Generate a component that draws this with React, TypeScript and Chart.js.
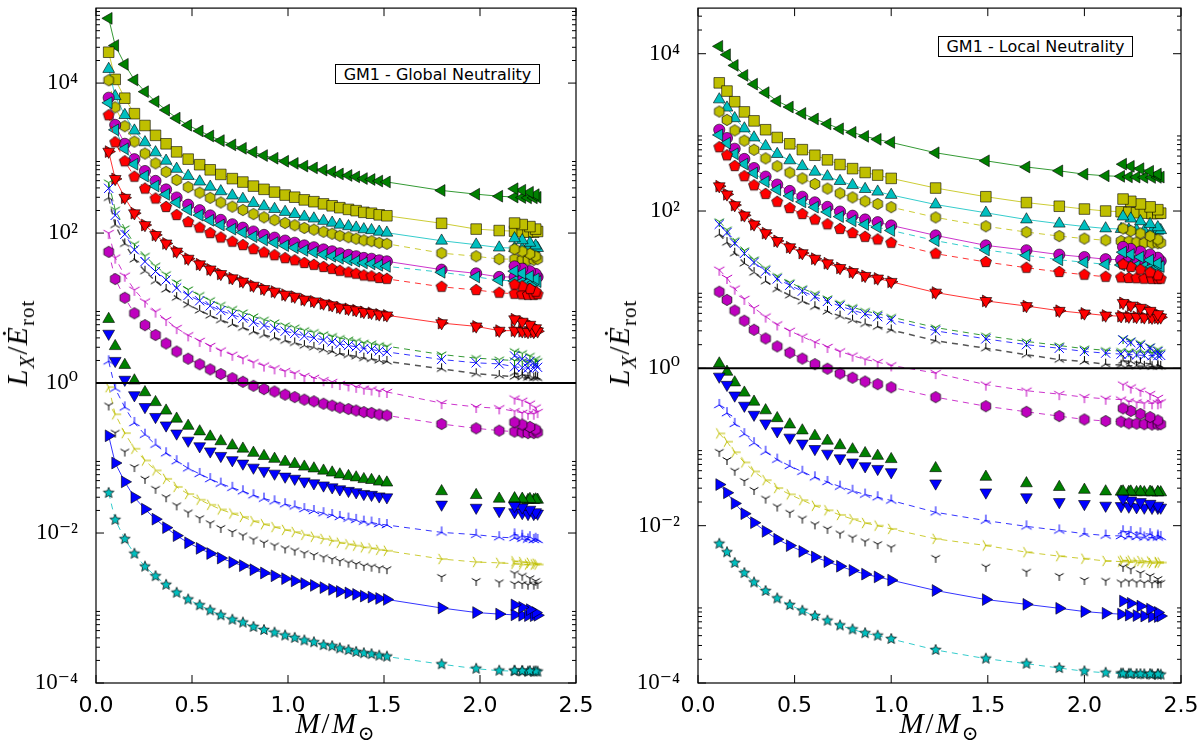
import React, { useEffect, useRef } from "react";
import { Chart, registerables } from "chart.js";
Chart.register(...registerables);

// ---------------- x positions (M / M_sun) ----------------
const XL = [0.066,0.10,0.15,0.20,0.255,0.31,0.365,0.42,0.48,0.54,0.595,0.65,0.71,0.765,0.82,0.875,0.93,0.985,1.035,1.085,1.135,1.185,1.23,1.27,1.315,1.355,1.395,1.435,1.475,1.515,1.8,1.98,2.1,2.18,2.22,2.25,2.28,2.3,2.29,2.26,2.22,2.18];
const XR = [0.11,0.15,0.19,0.24,0.29,0.35,0.41,0.475,0.54,0.605,0.67,0.735,0.80,0.865,0.93,1.0,1.23,1.49,1.70,1.87,2.0,2.11,2.19,2.23,2.27,2.31,2.35,2.38,2.395,2.38,2.34,2.29,2.24,2.2];

// ---------------- left panel: Global Neutrality ----------------
const L_GREEN_TRI_LEFT = [73000,31700,17800,11000,7680,5660,4370,3410,2740,2300,1970,1710,1500,1350,1200,1080,994,907,850,782,739,691,653,614,586,562,533,518,494,480,370,330,310,302,298,295,295,300,325,350,372,390];
const L_YELLOW_SQUARE = [25800,11200,6290,3910,2720,2010,1550,1210,969,816,697,605,532,479,423,383,352,321,301,277,262,245,231,218,207,199,189,184,175,170,135,113,108,106,104,103,103,105,113,122,130,136];
const L_CYAN_TRI_UP = [15400,6670,3740,2320,1620,1190,919,717,576,485,414,360,316,285,251,227,209,191,179,165,156,145,137,129,123,118,112,109,104,101,79,70,64,63,62,61,61,63,68,74,80,85];
const L_YELLOW_HEX = [10900,4750,2660,1660,1150,850,655,511,410,346,295,256,225,203,179,162,149,136,127,117,111,104,98,92,88,84,80,78,74,72,54,49,45,45,44,44,44,45,49,53,57,61];
const L_MAGENTA_CIRCLE = [6380,2770,1550,966,672,496,382,298,239,202,172,150,131,118,105,94.5,86.9,79.4,74.3,68.5,64.7,60.5,57.1,53.8,51.2,49.1,46.6,45.4,43.3,42,32.5,29,26,26,26,25.5,25.5,26,28.5,31,33.5,36];
const L_CYAN_TRI_LEFT = [5470,2380,1330,828,576,425,328,256,205,173,148,128,113,102,89.6,81,74.5,68,63.7,58.7,55.4,51.8,49,46.1,43.9,42.1,40,38.9,37.1,36,30,26,23.5,23,22.5,22,22,22.5,24.5,26.5,29,31];
const L_RED_PENTAGON = [3720,1620,907,564,392,289,223,174,140,118,100,87.2,76.7,69.1,61,55.1,50.7,46.3,43.4,39.9,37.7,35.3,33.3,31.4,29.9,28.7,27.2,26.5,25.2,24.5,19.2,17.4,16,15.5,15.2,15,15,15.3,16.5,18,19.5,20.5];
const L_RED_TRI = [1220,528,296,184,128,94.4,72.8,56.8,45.6,38.4,32.8,28.5,25,22.6,19.9,18,16.6,15.1,14.2,13,12.3,11.5,10.9,10.2,9.76,9.36,8.88,8.64,8.24,8.0,6.3,5.7,5.0,5.0,4.9,4.8,4.8,4.9,5.4,6.0,6.6,7.1];
const L_GREEN_Y = [471,205,115,71.3,49.6,36.6,28.2,22,17.7,14.9,12.7,11,9.7,8.74,7.72,6.98,6.42,5.86,5.49,5.05,4.77,4.46,4.22,3.97,3.78,3.63,3.44,3.35,3.19,3.1,2.4,2.15,2.05,2.0,1.95,1.9,1.9,1.95,2.1,2.3,2.5,2.65];
const L_BLUE_X = [395,172,96.2,59.8,41.6,30.7,23.7,18.5,14.8,12.5,10.7,9.26,8.14,7.33,6.47,5.85,5.38,4.91,4.6,4.24,4.0,3.74,3.54,3.33,3.17,3.04,2.89,2.81,2.68,2.6,2.06,1.86,1.8,1.65,1.6,1.58,1.58,1.62,1.78,1.95,2.1,2.3];
const L_BLACK_TRI_UP = [295,128,71.8,44.6,31,22.9,17.7,13.8,11.1,9.31,7.95,6.91,6.07,5.47,4.83,4.37,4.02,3.67,3.43,3.16,2.99,2.79,2.64,2.48,2.37,2.27,2.15,2.1,2.0,1.94,1.55,1.33,1.26,1.22,1.2,1.18,1.17,1.17,1.2,1.24,1.3,1.36];
const L_MAGENTA_Y = [100,47,27,17.5,12.2,8.97,6.92,5.4,4.33,3.65,3.12,2.71,2.38,2.14,1.89,1.71,1.57,1.44,1.35,1.24,1.17,1.09,1.03,0.97,0.93,0.89,0.84,0.82,0.78,0.76,0.54,0.48,0.46,0.42,0.40,0.39,0.39,0.41,0.47,0.53,0.58,0.62];
const L_MAGENTA_HEX = [56.2,24.4,13.7,8.51,5.92,4.37,3.37,2.63,2.11,1.78,1.52,1.32,1.16,1.04,0.92,0.83,0.77,0.70,0.65,0.60,0.57,0.53,0.50,0.47,0.45,0.43,0.41,0.40,0.38,0.37,0.284,0.249,0.232,0.225,0.22,0.215,0.215,0.22,0.24,0.26,0.28,0.30];
const L_GREEN_TRI_UP = [7.14,3.1,1.74,1.08,0.752,0.555,0.428,0.334,0.268,0.226,0.193,0.167,0.147,0.133,0.117,0.106,0.0973,0.0888,0.0832,0.0766,0.0724,0.0677,0.0639,0.0602,0.0573,0.055,0.0522,0.0508,0.0484,0.047,0.036,0.032,0.0286,0.028,0.0277,0.0275,0.0275,0.0277,0.028,0.0283,0.0286,0.029];
const L_BLUE_TRI_DOWN = [4.56,1.98,1.11,0.69,0.48,0.354,0.273,0.213,0.171,0.144,0.123,0.107,0.0939,0.0846,0.0747,0.0675,0.0621,0.0567,0.0531,0.0489,0.0462,0.0432,0.0408,0.0384,0.0366,0.0351,0.0333,0.0324,0.0309,0.030,0.024,0.0218,0.0197,0.019,0.0185,0.018,0.018,0.0182,0.019,0.0205,0.022,0.023];
const L_BLUE_TRI_UP_LINE = [1.95,0.845,0.474,0.294,0.205,0.151,0.116,0.0909,0.073,0.0614,0.0525,0.0456,0.0401,0.0361,0.0319,0.0288,0.0265,0.0242,0.0227,0.0209,0.0197,0.0184,0.0174,0.0164,0.0156,0.015,0.0142,0.0138,0.0132,0.0128,0.0102,0.0095,0.0088,0.0086,0.0084,0.0082,0.0081,0.0081,0.0084,0.0088,0.0092,0.0096];
const L_YELLOW_TRI_RIGHT = [0.882,0.383,0.215,0.133,0.0928,0.0684,0.0528,0.0412,0.0331,0.0278,0.0238,0.0206,0.0182,0.0164,0.0144,0.0131,0.012,0.011,0.0103,0.00945,0.00893,0.00835,0.00789,0.00742,0.00708,0.00679,0.00644,0.00626,0.00597,0.0058,0.0045,0.0041,0.0040,0.0039,0.0038,0.0038,0.0038,0.0038,0.0039,0.0040,0.0041,0.0042];
const L_BLACK_Y = [0.502,0.218,0.122,0.0759,0.0528,0.0389,0.03,0.0234,0.0188,0.0158,0.0135,0.0117,0.0103,0.0093,0.0082,0.00743,0.00683,0.00624,0.00584,0.00538,0.00508,0.00475,0.00449,0.00422,0.00403,0.00386,0.00366,0.00356,0.0034,0.0033,0.0026,0.0023,0.0022,0.0021,0.0021,0.00205,0.00205,0.0021,0.0023,0.0025,0.0027,0.0029];
const L_BLUE_TRI_RIGHT = [0.198,0.0858,0.0481,0.0299,0.0208,0.0153,0.0118,0.00923,0.00741,0.00624,0.00533,0.00463,0.00407,0.00367,0.00324,0.00293,0.00269,0.00246,0.0023,0.00212,0.002,0.00187,0.00177,0.00166,0.00159,0.00152,0.00144,0.0014,0.00134,0.0013,0.001,0.00087,0.00083,0.00081,0.0008,0.00079,0.00079,0.0008,0.00087,0.00095,0.00102,0.0011];
const L_CYAN_STAR = [0.0343,0.015,0.0083,0.0053,0.00357,0.00266,0.00204,0.0016,0.0013,0.00109,0.00093,0.0008,0.0007,0.00064,0.00056,0.00051,0.00047,0.00043,0.0004,0.00037,0.00035,0.00032,0.00031,0.00029,0.000275,0.00026,0.00025,0.000243,0.000232,0.000225,0.000178,0.000155,0.000146,0.000144,0.000143,0.000142,0.000142,0.000142,0.000143,0.000144,0.000145,0.000146];

// ---------------- right panel: Local Neutrality ----------------
const R_GREEN_TRI_LEFT = [12400,9700,7100,5300,4100,3200,2500,2100,1740,1480,1280,1110,1000,890,815,745,550,435,363,324,294,280,276,272,270,268,267,268,270,295,320,345,370,394];
const R_YELLOW_SQUARE = [4260,3350,2450,1820,1400,1080,861,715,603,512,447,390,346,309,286,260,196,152,128,115,106,100,98,96,95,94,93,93,94,104,113,123,133,142];
const R_CYAN_TRI_UP = [2620,2060,1510,1120,859,667,530,440,371,315,275,240,213,190,176,160,121,95,78,69,63.6,60,59,58,57,56,56,56,57,62,68,74,80,85];
const R_YELLOW_HEX = [1840,1440,1060,784,601,467,371,308,260,221,193,168,149,133,123,112,83,64,54,48,44.6,42.5,41.5,41,40,39.5,39,39,39.5,43.5,48,52,56,60];
const R_MAGENTA_CIRCLE = [1080,846,619,459,352,274,217,180,152,129,113,98.4,87.2,78.1,72.2,65.6,49,36.6,31.7,27.9,26,24.4,24,23.8,23.5,23.2,23,23,23.2,25.5,28,30.5,33,35];
const R_CYAN_TRI_LEFT = [928,730,534,396,304,236,187,156,131,112,97.4,84.9,75.3,67.4,62.3,56.6,42,32,27.3,24,22.3,21,20.6,20.3,20,19.7,19.5,19.5,19.7,21.7,23.8,26,28,30];
const R_RED_PENTAGON = [648,510,373,277,212,165,131,109,91.6,77.8,67.9,59.3,52.5,47,43.5,39.5,28.7,22.5,19,16.8,15.5,14.6,14.3,14.1,14,13.8,13.7,13.7,13.8,15.2,16.6,18,19.5,21];
const R_RED_TRI = [207,163,119,88.2,67.7,52.5,41.7,34.7,29.2,24.8,21.7,18.9,16.8,15,13.9,12.6,9.2,7.2,6.2,5.4,5.0,4.7,4.6,4.55,4.5,4.45,4.4,4.4,4.45,4.9,5.4,5.9,6.3,6.8];
const R_GREEN_Y = [73.8,58,42.5,31.5,24.2,18.8,14.9,12.4,10.4,8.87,7.74,6.75,5.99,5.36,4.95,4.5,3.3,2.6,2.2,1.95,1.78,1.7,1.66,1.63,1.62,1.6,1.58,1.58,1.6,1.75,1.9,2.1,2.25,2.4];
const R_BLUE_X = [67.7,53.3,39,28.9,22.2,17.2,13.7,11.4,9.58,8.14,7.1,6.2,5.49,4.91,4.54,4.13,3.0,2.37,2.0,1.8,1.64,1.56,1.52,1.5,1.48,1.46,1.45,1.45,1.46,1.63,1.8,1.96,2.13,2.3];
const R_BLACK_TRI_UP = [50.5,39.7,29.1,21.6,16.5,12.8,10.2,8.47,7.15,6.07,5.3,4.62,4.1,3.67,3.39,3.08,2.24,1.8,1.49,1.29,1.22,1.13,1.1,1.08,1.07,1.06,1.05,1.05,1.06,1.1,1.14,1.18,1.22,1.25];
const R_MAGENTA_Y = [17.9,14.1,10.3,7.63,5.85,4.55,3.61,3.0,2.53,2.15,1.87,1.64,1.45,1.3,1.2,1.09,0.87,0.62,0.52,0.47,0.43,0.41,0.40,0.38,0.37,0.36,0.36,0.36,0.37,0.42,0.47,0.52,0.57,0.62];
const R_MAGENTA_HEX = [9.43,7.42,5.43,4.03,3.09,2.4,1.9,1.58,1.33,1.13,0.99,0.86,0.76,0.68,0.63,0.575,0.43,0.33,0.28,0.247,0.224,0.214,0.21,0.2,0.198,0.195,0.193,0.193,0.195,0.218,0.24,0.263,0.287,0.31];
const R_GREEN_TRI_UP = [1.15,0.903,0.661,0.49,0.376,0.292,0.232,0.193,0.162,0.138,0.12,0.105,0.0931,0.0833,0.077,0.070,0.0537,0.0417,0.0345,0.031,0.0285,0.0272,0.027,0.0268,0.0266,0.0265,0.0264,0.0264,0.0265,0.0267,0.0269,0.027,0.0271,0.0272];
const R_BLUE_TRI_DOWN = [0.787,0.619,0.453,0.336,0.258,0.2,0.159,0.132,0.111,0.0946,0.0826,0.072,0.0638,0.0571,0.0528,0.048,0.0345,0.0265,0.023,0.020,0.0189,0.018,0.0178,0.0175,0.0172,0.017,0.0169,0.0169,0.017,0.018,0.019,0.02,0.021,0.022];
const R_BLUE_TRI_UP_LINE = [0.343,0.27,0.197,0.146,0.112,0.0872,0.0692,0.0575,0.0485,0.0412,0.036,0.0314,0.0278,0.0249,0.023,0.0209,0.0148,0.0116,0.0098,0.0087,0.0079,0.0075,0.0074,0.0073,0.0072,0.0071,0.0071,0.0071,0.0072,0.0075,0.0078,0.008,0.0083,0.0085];
const R_YELLOW_TRI_RIGHT = [0.149,0.117,0.0859,0.0637,0.0489,0.0379,0.0301,0.025,0.0211,0.0179,0.0157,0.0137,0.0121,0.0108,0.01,0.0091,0.0068,0.0056,0.0046,0.0041,0.0038,0.00356,0.0035,0.00345,0.0034,0.0034,0.00335,0.00335,0.0034,0.00345,0.0035,0.00355,0.0036,0.0036];
const R_BLACK_Y = [0.0869,0.0684,0.05,0.0371,0.0285,0.0221,0.0175,0.0146,0.0123,0.0104,0.00912,0.00795,0.00705,0.00631,0.00583,0.0053,0.0039,0.003,0.0026,0.0023,0.00204,0.002,0.0019,0.00195,0.0019,0.00188,0.00186,0.00186,0.00188,0.0021,0.0023,0.0025,0.0028,0.003];
const R_BLUE_TRI_RIGHT = [0.0333,0.0262,0.0192,0.0142,0.0109,0.00847,0.00672,0.00558,0.00471,0.004,0.00349,0.00305,0.0027,0.00242,0.00223,0.00203,0.0015,0.00115,0.001,0.00089,0.00081,0.00077,0.00075,0.00073,0.00072,0.00071,0.0007,0.0007,0.00071,0.00079,0.00087,0.00095,0.00103,0.0011];
const R_CYAN_STAR = [0.0059,0.0046,0.00336,0.0025,0.0019,0.00148,0.00119,0.00098,0.00083,0.00071,0.00062,0.00054,0.00048,0.00043,0.0004,0.000363,0.000263,0.000204,0.000176,0.000155,0.000141,0.000135,0.000132,0.000131,0.00013,0.000129,0.000128,0.000128,0.000128,0.000129,0.00013,0.00013,0.000131,0.000132];

// ---------------- axes ----------------
const X_TICKS = [0, 0.5, 1, 1.5, 2, 2.5];
const X_TICK_TEXT = ["0.0", "0.5", "1.0", "1.5", "2.0", "2.5"];
const Y_TICKS = [1e-4, 1e-2, 1, 1e2, 1e4];
const Y_TICK_TEXT = ["10\u207B\u2074", "10\u207B\u00B2", "10\u2070", "10\u00B2", "10\u2074"];
const Y_MINOR_SUBS = [2, 3, 4, 5, 6, 7, 8, 9];
const Y_MIN = 1e-4;
const LEFT_Y_MAX = 1e5;
const RIGHT_Y_MAX = 3.8e4;
const UNITY = 1;

const LEFT_SERIES = [L_GREEN_TRI_LEFT, L_YELLOW_SQUARE, L_CYAN_TRI_UP, L_YELLOW_HEX, L_MAGENTA_CIRCLE, L_CYAN_TRI_LEFT, L_RED_PENTAGON, L_RED_TRI, L_RED_TRI, L_GREEN_Y, L_BLUE_X, L_BLACK_TRI_UP, L_MAGENTA_Y, L_MAGENTA_HEX, L_GREEN_TRI_UP, L_BLUE_TRI_DOWN, L_BLUE_TRI_UP_LINE, L_YELLOW_TRI_RIGHT, L_BLACK_Y, L_BLUE_TRI_RIGHT, L_CYAN_STAR];
const RIGHT_SERIES = [R_GREEN_TRI_LEFT, R_YELLOW_SQUARE, R_CYAN_TRI_UP, R_YELLOW_HEX, R_MAGENTA_CIRCLE, R_CYAN_TRI_LEFT, R_RED_PENTAGON, R_RED_TRI, R_RED_TRI, R_GREEN_Y, R_BLUE_X, R_BLACK_TRI_UP, R_MAGENTA_Y, R_MAGENTA_HEX, R_GREEN_TRI_UP, R_BLUE_TRI_DOWN, R_BLUE_TRI_UP_LINE, R_YELLOW_TRI_RIGHT, R_BLACK_Y, R_BLUE_TRI_RIGHT, R_CYAN_STAR];

// ---------------- styles ----------------
const G = "#008000", Y = "#BFBF00", C = "#00BFBF", M = "#BF00BF", R = "#FF0000", B = "#0000FF", K = "#000000";

type Sty = { kind: string; rot?: number; color: string; line: "solid" | "dashed" | "none"; r: number; lineColor?: string; lw?: number };
const STYLES: Sty[] = [
  { kind: "triangle", rot: 270, color: G, line: "solid", r: 6.8 },
  { kind: "rect", color: Y, line: "solid", r: 7.5 },
  { kind: "triangle", color: C, line: "solid", r: 6.8 },
  { kind: "hex", color: Y, line: "dashed", r: 5.6 },
  { kind: "circle", color: M, line: "solid", r: 5.6 },
  { kind: "triangle", rot: 270, color: C, line: "dashed", r: 6.8 },
  { kind: "pent", color: R, line: "dashed", r: 5.8 },
  { kind: "triangle", rot: 90, color: R, line: "solid", r: 6.8 },
  { kind: "triangle", rot: 180, color: R, line: "none", r: 6.8 },
  { kind: "tri_down", color: G, line: "dashed", r: 5.5 },
  { kind: "crossRot", color: B, line: "dashed", r: 6.5 },
  { kind: "tri_up", color: K, line: "dashed", r: 5.5, lineColor: "#555555", lw: 1.5 },
  { kind: "tri_down", color: M, line: "dashed", r: 6 },
  { kind: "hex", color: M, line: "dashed", r: 5.6 },
  { kind: "triangle", color: G, line: "none", r: 6.8 },
  { kind: "triangle", rot: 180, color: B, line: "none", r: 6.8 },
  { kind: "tri_up", color: B, line: "dashed", r: 6 },
  { kind: "tri_right", color: Y, line: "dashed", r: 6 },
  { kind: "tri_down", color: K, line: "none", r: 5 },
  { kind: "triangle", rot: 90, color: B, line: "solid", r: 6.8 },
  { kind: "star", color: C, line: "dashed", r: 5.6 },
];

function sprite(kind: string, color: string, size: number): HTMLCanvasElement {
  const s = Math.ceil(size * 2 + 4);
  const c = document.createElement("canvas");
  c.width = s;
  c.height = s;
  const g = c.getContext("2d")!;
  const cx = s / 2, cy = s / 2;
  g.beginPath();
  if (kind === "hex" || kind === "pent" || kind === "star") {
    const n = kind === "hex" ? 6 : kind === "pent" ? 5 : 10;
    for (let k = 0; k < n; k++) {
      const rr = kind === "star" && k % 2 === 1 ? size * 0.45 : size;
      const a = -Math.PI / 2 + (k * 2 * Math.PI) / n;
      const px = cx + rr * Math.cos(a), py = cy + rr * Math.sin(a);
      if (k === 0) g.moveTo(px, py); else g.lineTo(px, py);
    }
    g.closePath();
    g.fillStyle = color;
    g.fill();
    g.lineWidth = 0.7;
    g.strokeStyle = "#000";
    g.stroke();
  } else {
    const arms = kind === "tri_down" ? [90, 210, 330] : kind === "tri_up" ? [270, 150, 30] : [0, 120, 240];
    for (const d of arms) {
      const a = (d * Math.PI) / 180;
      g.moveTo(cx, cy);
      g.lineTo(cx + size * Math.cos(a), cy + size * Math.sin(a));
    }
    g.lineWidth = 1;
    g.strokeStyle = color;
    g.stroke();
  }
  return c;
}

const framePlugin = {
  id: "frameTicks",
  afterDraw(chart: any) {
    const { ctx, chartArea: a, scales } = chart;
    const xs = scales.x, ys = scales.y;
    ctx.save();
    ctx.strokeStyle = "#000";
    ctx.lineWidth = 1.2;
    ctx.strokeRect(a.left, a.top, a.right - a.left, a.bottom - a.top);
    ctx.lineWidth = 1;
    ctx.beginPath();
    for (const v of X_TICKS) {
      const p = xs.getPixelForValue(v);
      ctx.moveTo(p, a.bottom); ctx.lineTo(p, a.bottom - 8);
      ctx.moveTo(p, a.top); ctx.lineTo(p, a.top + 8);
    }
    for (const v of Y_TICKS) {
      const p = ys.getPixelForValue(v);
      ctx.moveTo(a.left, p); ctx.lineTo(a.left + 8, p);
      ctx.moveTo(a.right, p); ctx.lineTo(a.right - 8, p);
      for (const s of Y_MINOR_SUBS) {
        const q = ys.getPixelForValue(v * s);
        if (q < a.top) continue;
        ctx.moveTo(a.left, q); ctx.lineTo(a.left + 4, q);
        ctx.moveTo(a.right, q); ctx.lineTo(a.right - 4, q);
      }
    }
    ctx.stroke();
    ctx.restore();
  },
};

function Panel(props: { xs: number[]; series: number[][]; yMax: number; yWidth: number; rightPad: number; left: number }) {
  const ref = useRef<HTMLCanvasElement>(null);
  useEffect(() => {
    const datasets: any[] = STYLES.map((st, i) => {
      const ys = props.series[i];
      const data = props.xs.map((x, j) => ({ x, y: ys[j] }));
      const custom = ["hex", "pent", "star", "tri_down", "tri_up", "tri_right"].includes(st.kind);
      const pointStyle: any = custom ? sprite(st.kind, st.color, st.r) : st.kind;
      return {
        data,
        showLine: st.line !== "none",
        borderColor: st.lineColor ?? st.color,
        borderWidth: st.lw ?? 0.8,
        borderDash: st.line === "dashed" ? [6, 5] : [],
        pointStyle,
        pointRotation: st.rot ?? 0,
        pointRadius: st.r,
        pointBackgroundColor: st.color,
        pointBorderColor: st.kind === "crossRot" ? st.color : "#000",
        pointBorderWidth: st.kind === "crossRot" ? 1 : 0.6,
        fill: false,
        tension: 0,
        order: 100 - i,
      };
    });
    datasets.push({
      data: [{ x: 0, y: UNITY }, { x: 2.5, y: UNITY }],
      borderColor: "#000",
      borderWidth: 2,
      pointRadius: 0,
      fill: false,
      order: 0,
    });
    const chart = new Chart(ref.current!, {
      type: "line",
      data: { datasets },
      options: {
        animation: false,
        responsive: false,
        events: [],
        layout: { padding: { top: 4, right: props.rightPad, bottom: 0, left: 0 } },
        plugins: { legend: { display: false }, tooltip: { enabled: false } },
        scales: {
          x: {
            type: "linear",
            min: 0,
            max: 2.5,
            grid: { display: false },
            border: { display: false },
            afterBuildTicks: (s: any) => { s.ticks = X_TICKS.map((v) => ({ value: v })); },
            afterFit: (s: any) => { s.height = 65; s.paddingLeft = 0; s.paddingRight = 0; },
            ticks: {
              autoSkip: false,
              maxRotation: 0,
              padding: 2,
              color: "#000",
              font: { family: '"DejaVu Sans", sans-serif', size: 22 },
              callback: (_v: any, i: number) => X_TICK_TEXT[i],
            },
          },
          y: {
            type: "logarithmic",
            min: Y_MIN,
            max: props.yMax,
            grid: { display: false },
            border: { display: false },
            afterBuildTicks: (s: any) => { s.ticks = Y_TICKS.map((v) => ({ value: v })); },
            afterFit: (s: any) => { s.width = props.yWidth; s.paddingTop = 0; s.paddingBottom = 0; },
            ticks: {
              autoSkip: false,
              padding: 10,
              color: "#000",
              font: { family: '"Liberation Serif", "DejaVu Serif", serif', size: 23 },
              callback: (_v: any, i: number) => Y_TICK_TEXT[i],
            },
          },
        },
      } as any,
      plugins: [framePlugin],
    });
    return () => chart.destroy();
  }, []);
  return (
    <canvas
      ref={ref}
      width={600}
      height={748}
      style={{ position: "absolute", left: props.left, top: 0, width: 600, height: 748 }}
    />
  );
}

const titleFont = '"Liberation Serif", "DejaVu Serif", serif';

function YTitle({ cx }: { cx: number }) {
  return (
    <div
      style={{
        position: "absolute",
        left: cx,
        top: 343,
        transform: "translate(-50%, -50%) rotate(-90deg)",
        whiteSpace: "nowrap",
        fontFamily: titleFont,
        fontSize: 30,
        lineHeight: "34px",
        letterSpacing: 1,
      }}
    >
      <i>L</i>
      <sub style={{ fontSize: 21 }}><i>X</i></sub>
      <span>/</span>
      <i>{"\u0116"}</i>
      <sub style={{ fontSize: 21 }}>rot</sub>
    </div>
  );
}

function XTitle({ cx }: { cx: number }) {
  return (
    <div
      style={{
        position: "absolute",
        left: cx,
        top: 728,
        transform: "translate(-50%, -50%)",
        whiteSpace: "nowrap",
        fontFamily: titleFont,
        fontSize: 29,
        lineHeight: "32px",
        letterSpacing: 2,
      }}
    >
      <i>M</i>
      <span>/</span>
      <i>M</i>
      <sub style={{ fontSize: 20 }}>{"\u2299"}</sub>
    </div>
  );
}

function Note({ x, y, w, h, text }: { x: number; y: number; w: number; h: number; text: string }) {
  return (
    <div
      style={{
        position: "absolute",
        left: x,
        top: y,
        width: w,
        height: h,
        border: "1px solid #000",
        background: "#fff",
        boxSizing: "border-box",
        display: "flex",
        alignItems: "center",
        justifyContent: "center",
        fontFamily: '"DejaVu Sans", sans-serif',
        fontSize: 16,
        whiteSpace: "nowrap",
        color: "#000",
      }}
    >
      {text}
    </div>
  );
}

export default function App() {
  return (
    <div style={{ position: "absolute", left: 0, top: 0, width: 1200, height: 748, background: "#fff", overflow: "hidden" }}>
      <Panel xs={XL} series={LEFT_SERIES} yMax={LEFT_Y_MAX} yWidth={96} rightPad={24} left={0} />
      <Panel xs={XR} series={RIGHT_SERIES} yMax={RIGHT_Y_MAX} yWidth={98} rightPad={19} left={600} />
      <YTitle cx={22} />
      <YTitle cx={624} />
      <XTitle cx={336} />
      <XTitle cx={940} />
      <Note x={335} y={64} w={205} h={20} text="GM1 - Global Neutrality" />
      <Note x={938} y={36} w={195} h={21} text="GM1 - Local Neutrality" />
    </div>
  );
}
